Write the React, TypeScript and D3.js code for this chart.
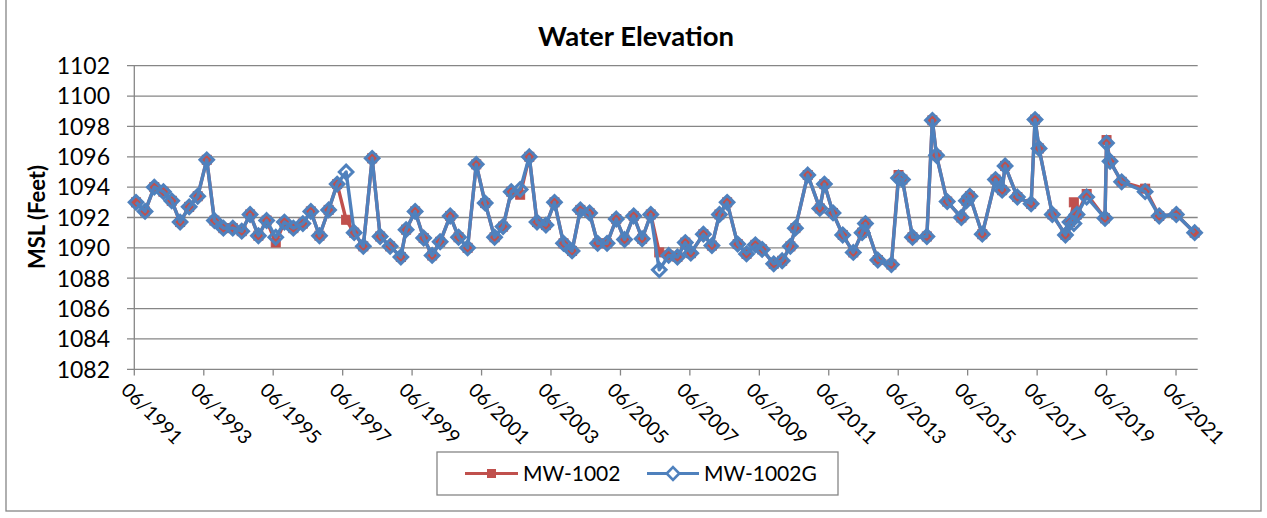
import React from "react";
import * as d3 from "d3";

const dates = [
  "1991-06-19","1991-09-22","1991-12-28","1992-04-02","1992-06-29","1992-09-25","1992-12-29","1993-03-29","1993-07-02","1993-09-21",
  "1993-12-24","1994-04-02","1994-07-05","1994-10-01","1994-12-27","1995-03-24","1995-06-28","1995-09-27","1995-12-30","1996-04-08",
  "1996-07-01","1996-09-30","1997-01-04","1997-04-04","1997-07-07","1997-09-30","1998-01-04","1998-04-07","1998-06-30","1998-10-13",
  "1999-02-03","1999-03-30","1999-07-03","1999-10-01","1999-12-29","2000-03-22","2000-07-06","2000-10-02","2001-01-05","2001-04-06",
  "2001-07-09","2001-10-16","2002-01-13","2002-04-09","2002-07-12","2002-10-16","2003-01-05","2003-04-09","2003-07-08","2003-10-11",
  "2004-01-09","2004-04-05","2004-07-11","2004-10-04","2005-01-11","2005-04-18","2005-07-14","2005-10-18","2006-01-15","2006-04-16",
  "2006-07-14","2006-10-21","2007-01-21","2007-04-14","2007-06-11","2007-10-21","2008-01-19","2008-04-07","2008-06-27","2008-10-16",
  "2009-01-17","2009-04-20","2009-06-30","2009-10-30","2010-01-27","2010-04-23","2010-06-15","2010-10-23","2011-02-27","2011-04-16",
  "2011-07-16","2011-10-26","2012-02-14","2012-05-17","2012-06-21","2012-10-29","2013-03-21","2013-06-04","2013-07-15","2013-10-29",
  "2014-03-29","2014-05-26","2014-07-08","2014-10-29","2015-03-27","2015-05-19","2015-06-25","2015-11-02","2016-03-20","2016-05-29",
  "2016-06-29","2016-11-05","2017-03-30","2017-05-10","2017-06-21","2017-11-08","2018-03-26","2018-05-13","2018-06-22","2018-07-25",
  "2018-11-04","2019-05-16","2019-06-01","2019-07-08","2019-11-07","2020-07-11","2020-12-06","2021-06-04","2021-12-14",
];

const mw1002 = [
  1093.0, 1092.4, 1094.0, 1093.7, 1093.1, 1091.7, 1092.7, 1093.4, 1095.8, 1091.8,
  1091.3, 1091.3, 1091.1, 1092.2, 1090.8, 1091.8, 1090.35, 1091.7, 1091.3, 1091.6,
  1092.4, 1090.8, 1092.5, 1094.2, 1091.85, 1091.0, 1090.1, 1095.9, 1090.75, 1090.1,
  1089.4, 1091.2, 1092.4, 1090.65, 1089.5, 1090.4, 1092.1, 1090.7, 1090.0, 1095.5,
  1092.95, 1090.7, 1091.4, 1093.7, 1093.5, 1096.0, 1091.7, 1091.5, 1093.0, 1090.3,
  1089.8, 1092.5, 1092.3, 1090.3, 1090.3, 1091.9, 1090.55, 1092.1, 1090.6, 1092.2,
  1089.7, 1089.5, 1089.4, 1090.35, 1089.65, 1090.9, 1090.15, 1092.2, 1093.0, 1090.25,
  1089.6, 1090.2, 1089.9, 1088.95, 1089.15, 1090.1, 1091.3, 1094.8, 1092.6, 1094.2,
  1092.3, 1090.85, 1089.7, 1091.0, 1091.6, 1089.2, 1088.9, 1094.8, 1094.5, 1090.7,
  1090.75, 1098.4, 1096.1, 1093.05, 1092.0, 1093.1, 1093.4, 1090.9, 1094.5, 1093.8,
  1095.4, 1093.35, 1092.9, 1098.45, 1096.55, 1092.2, 1090.85, 1091.7, 1093.0, 1092.2,
  1093.55, 1091.95, 1097.1, 1095.7, 1094.35, 1093.9, 1092.1, 1092.2, 1091.0,
];

const mw1002G = [
  1093.0, 1092.4, 1094.0, 1093.7, 1093.1, 1091.7, 1092.7, 1093.4, 1095.8, 1091.8,
  1091.3, 1091.3, 1091.1, 1092.2, 1090.8, 1091.8, 1090.7, 1091.7, 1091.3, 1091.6,
  1092.4, 1090.8, 1092.5, 1094.2, 1095.0, 1091.0, 1090.1, 1095.9, 1090.75, 1090.1,
  1089.4, 1091.2, 1092.4, 1090.65, 1089.5, 1090.4, 1092.1, 1090.7, 1090.0, 1095.5,
  1092.95, 1090.7, 1091.4, 1093.7, 1093.85, 1096.0, 1091.7, 1091.5, 1093.0, 1090.3,
  1089.8, 1092.5, 1092.3, 1090.3, 1090.3, 1091.9, 1090.55, 1092.1, 1090.6, 1092.2,
  1088.55, 1089.5, 1089.4, 1090.35, 1089.65, 1090.9, 1090.15, 1092.2, 1093.0, 1090.25,
  1089.6, 1090.2, 1089.9, 1088.95, 1089.15, 1090.1, 1091.3, 1094.8, 1092.6, 1094.2,
  1092.3, 1090.85, 1089.7, 1091.0, 1091.6, 1089.2, 1088.9, 1094.6, 1094.5, 1090.7,
  1090.75, 1098.4, 1096.1, 1093.05, 1092.0, 1093.1, 1093.4, 1090.9, 1094.5, 1093.8,
  1095.4, 1093.35, 1092.9, 1098.45, 1096.55, 1092.2, 1090.85, 1091.7, 1091.6, 1092.2,
  1093.35, 1091.95, 1096.9, 1095.7, 1094.35, 1093.7, 1092.1, 1092.2, 1091.0,
];

const yTicks = [1082, 1084, 1086, 1088, 1090, 1092, 1094, 1096, 1098, 1100, 1102];
const xTickYears = [1991, 1993, 1995, 1997, 1999, 2001, 2003, 2005, 2007, 2009, 2011, 2013, 2015, 2017, 2019, 2021];
const seriesNames = ["MW-1002", "MW-1002G"];

const W = 1267;
const H = 518;
const RED = "#C0504D";
const BLUE = "#4F81BD";
const GRID = "#868686";
const FONT = "Lato, 'Open Sans', sans-serif";

export default function App() {
  const parse = d3.timeParse("%Y-%m-%d");
  const fmt = d3.timeFormat("%m/%Y");
  const pts = dates.map((d) => parse(d) as Date);

  const x = d3
    .scaleTime()
    .domain([new Date(1991, 5, 1), new Date(2022, 0, 15)])
    .range([134.3, 1197.7]);
  const y = d3.scaleLinear().domain([1082, 1102]).range([369.3, 65.7]);

  const redData = pts.map((d, i) => ({ d, v: mw1002[i] }));
  const blueData = pts.map((d, i) => ({ d, v: mw1002G[i] }));
  const line = d3
    .line<{ d: Date; v: number }>()
    .x((p) => x(p.d))
    .y((p) => y(p.v));

  const xTicks = xTickYears.map((yr) => new Date(yr, 5, 1));
  const sq = 9;
  const dm = 6.8;
  const diamond = (cx: number, cy: number, r: number) =>
    `M${cx},${cy - r}L${cx + r},${cy}L${cx},${cy + r}L${cx - r},${cy}Z`;

  return (
    <div style={{ position: "absolute", left: 0, top: 0 }}>
      <svg width={W} height={H} style={{ display: "block", background: "#fff" }}>
        <rect x={6} y={-2} width={1255} height={513} fill="#fff" stroke="#868686" strokeWidth={1.3} />
        <text x={636} y={46} textAnchor="middle" fontFamily={FONT} fontWeight="bold" fontSize={27.5} fill="#000">
          Water Elevation
        </text>

        {yTicks.map((t) => (
          <g key={t}>
            <line x1={127} x2={1197.7} y1={y(t)} y2={y(t)} stroke={GRID} strokeWidth={1.3} />
            <text x={110} y={y(t)} dy="0.36em" textAnchor="end" fontFamily={FONT} fontSize={23} fill="#000">
              {t}
            </text>
          </g>
        ))}
        <line x1={134.3} x2={134.3} y1={65.7} y2={369.3} stroke={GRID} strokeWidth={1.3} />
        {xTicks.map((t) => (
          <g key={t.getTime()}>
            <line x1={x(t)} x2={x(t)} y1={369.3} y2={375.5} stroke={GRID} strokeWidth={1.3} />
            <text
              transform={`translate(${x(t) - 4},${381}) rotate(45)`}
              dy="0.75em"
              textAnchor="start"
              fontFamily={FONT}
              fontSize={19.5}
              fill="#000"
            >
              {fmt(t)}
            </text>
          </g>
        ))}

        <text
          transform={`translate(45,217) rotate(-90)`}
          textAnchor="middle"
          fontFamily={FONT}
          fontWeight="bold"
          fontSize={22}
          fill="#000"
        >
          MSL (Feet)
        </text>

        <path d={line(redData) || ""} fill="none" stroke={RED} strokeWidth={3.4} strokeLinejoin="round" />
        {redData.map((p, i) => (
          <rect key={"r" + i} x={x(p.d) - sq / 2} y={y(p.v) - sq / 2} width={sq} height={sq} fill={RED} stroke={RED} strokeWidth={1} />
        ))}
        <path d={line(blueData) || ""} fill="none" stroke={BLUE} strokeWidth={3.4} strokeLinejoin="round" />
        {blueData.map((p, i) => (
          <path key={"b" + i} d={diamond(x(p.d), y(p.v), dm)} fill="none" stroke={BLUE} strokeWidth={3} />
        ))}

        <rect x={437} y={452} width={401} height={43} fill="#fff" stroke={GRID} strokeWidth={1.3} />
        <line x1={465} x2={518} y1={473.5} y2={473.5} stroke={RED} strokeWidth={3.2} />
        <rect x={491.5 - 4.5} y={473.5 - 4.5} width={9} height={9} fill={RED} />
        <text x={523} y={473.5} dy="0.36em" fontFamily={FONT} fontSize={21} fill="#000">
          {seriesNames[0]}
        </text>
        <line x1={647} x2={699} y1={473.5} y2={473.5} stroke={BLUE} strokeWidth={3.2} />
        <path d={diamond(673, 473.5, 6.3)} fill="#fff" stroke={BLUE} strokeWidth={2.6} />
        <text x={704} y={473.5} dy="0.36em" fontFamily={FONT} fontSize={21} fill="#000">
          {seriesNames[1]}
        </text>
      </svg>
    </div>
  );
}
